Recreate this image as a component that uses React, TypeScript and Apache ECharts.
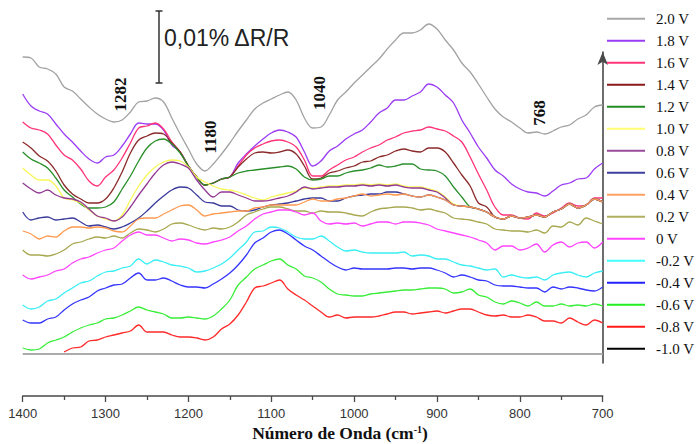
import React, { useEffect, useRef } from "react";
import * as echarts from "echarts";

// Wavenumber sampling (cm-1)
const wavenumbers = [
  1400, 1390, 1380, 1370, 1360, 1350, 1340, 1330, 1320, 1310,
  1300, 1290, 1280, 1270, 1260, 1250, 1240, 1230, 1220, 1210,
  1200, 1190, 1180, 1170, 1160, 1150, 1140, 1130, 1120, 1110,
  1100, 1090, 1080, 1070, 1060, 1050, 1040, 1030, 1020, 1010,
  1000, 990, 980, 970, 960, 950, 940, 930, 920, 910,
  900, 890, 880, 870, 860, 850, 840, 830, 820, 810,
  800, 790, 780, 770, 760, 750, 740, 730, 720, 710, 700,
];

const seriesNames = [
  "2.0 V", "1.8 V", "1.6 V", "1.4 V", "1.2 V", "1.0 V", "0.8 V", "0.6 V",
  "0.4 V", "0.2 V", "0 V", "-0.2 V", "-0.4 V", "-0.6 V", "-0.8 V", "-1.0 V",
];

// Offset spectra (arbitrary offset units)
const v20 = [
  306, 305, 296, 294, 289, 276, 272, 264, 256, 249,
  244, 241, 243, 251, 261, 262, 265, 261, 245, 229,
  214, 199, 192, 199, 209, 220, 232, 243, 254, 260,
  264, 268, 271, 263, 245, 235, 236, 248, 263, 271,
  280, 288, 296, 304, 314, 323, 330, 330, 333, 339,
  334, 323, 313, 300, 291, 279, 266, 254, 246, 241,
  235, 230, 231, 229, 232, 236, 238, 244, 248, 256, 258,
];
const v18 = [
  269, 257, 252, 249, 239, 229, 221, 212, 204, 200,
  206, 208, 217, 229, 240, 239, 239, 233, 218, 211,
  197, 186, 178, 180, 184, 186, 200, 209, 217, 224,
  230, 233, 231, 226, 211, 197, 202, 212, 217, 224,
  229, 233, 241, 250, 255, 263, 263, 267, 271, 279,
  276, 268, 260, 243, 230, 216, 205, 193, 187, 179,
  174, 171, 170, 167, 172, 178, 180, 184, 185, 194, 200,
];
const v16 = [
  241, 235, 233, 229, 218, 208, 203, 194, 182, 177,
  186, 193, 205, 220, 235, 237, 240, 234, 221, 211,
  197, 186, 178, 180, 184, 186, 197, 208, 215, 219,
  222, 223, 221, 216, 203, 187, 187, 193, 198, 203,
  206, 211, 215, 218, 223, 226, 230, 232, 233, 236,
  234, 232, 227, 221, 206, 189, 173, 156, 148, 148,
  145, 144, 150, 147, 150, 155, 160, 157, 158, 165, 165,
];
const v14 = [
  221, 215, 207, 202, 192, 178, 169, 164, 160, 160,
  164, 175, 191, 210, 223, 227, 230, 229, 220, 211,
  197, 186, 178, 180, 184, 186, 196, 204, 210, 211,
  210, 211, 213, 209, 197, 184, 185, 190, 192, 195,
  197, 201, 202, 206, 208, 212, 214, 212, 211, 215,
  215, 211, 200, 188, 177, 160, 156, 146, 144, 147,
  145, 146, 148, 146, 151, 154, 159, 155, 158, 164, 161,
];
const v12 = [
  211, 204, 200, 195, 185, 173, 166, 159, 155, 155,
  156, 161, 174, 187, 202, 215, 222, 224, 219, 210,
  197, 186, 178, 180, 184, 186, 190, 192, 193, 194,
  195, 196, 197, 194, 186, 183, 184, 187, 187, 190,
  192, 193, 195, 198, 196, 197, 199, 199, 194, 193,
  192, 187, 176, 166, 156, 154, 151, 146, 144, 147,
  145, 146, 148, 146, 151, 154, 159, 155, 158, 164, 161,
];
const v10 = [
  195, 188, 183, 183, 177, 165, 163, 160, 153, 147,
  144, 142, 148, 163, 177, 188, 196, 201, 203, 202,
  196, 186, 181, 177, 174, 173, 171, 168, 165, 163,
  166, 168, 170, 172, 175, 175, 176, 177, 177, 178,
  178, 179, 178, 179, 178, 179, 177, 176, 176, 174,
  172, 166, 159, 157, 156, 154, 151, 146, 144, 147,
  145, 146, 148, 146, 151, 154, 159, 155, 158, 164, 161,
];
const v08 = [
  180, 174, 170, 173, 168, 165, 164, 161, 154, 147,
  145, 142, 146, 156, 168, 179, 190, 198, 201, 199,
  195, 183, 173, 166, 171, 171, 168, 165, 162, 162,
  163, 165, 167, 171, 176, 174, 175, 176, 176, 177,
  177, 178, 177, 178, 177, 178, 176, 175, 175, 173,
  171, 165, 158, 157, 156, 154, 151, 146, 144, 147,
  145, 146, 148, 146, 151, 154, 159, 155, 158, 164, 161,
];
const v06 = [
  151, 143, 145, 146, 143, 144, 145, 141, 137, 138,
  136, 134, 136, 140, 145, 152, 160, 167, 173, 176,
  175, 168, 161, 160, 157, 157, 153, 152, 153, 156,
  158, 159, 160, 162, 164, 165, 165, 162, 162, 165,
  167, 168, 169, 169, 171, 171, 169, 167, 166, 168,
  166, 163, 158, 157, 156, 154, 151, 146, 144, 147,
  145, 146, 148, 146, 151, 154, 159, 155, 158, 164, 161,
];
const v04 = [
  132, 129, 124, 127, 126, 132, 136, 136, 135, 136,
  135, 132, 131, 137, 144, 145, 145, 149, 153, 157,
  158, 153, 147, 149, 150, 151, 152, 152, 155, 156,
  158, 158, 158, 158, 161, 164, 162, 162, 164, 165,
  167, 169, 167, 168, 169, 168, 169, 167, 166, 168,
  166, 163, 158, 157, 156, 154, 151, 146, 144, 147,
  145, 146, 148, 146, 151, 154, 159, 155, 158, 164, 161,
];
const v02 = [
  113, 108, 108, 107, 109, 113, 119, 121, 124, 126,
  125, 127, 125, 130, 134, 133, 131, 134, 139, 140,
  138, 135, 133, 135, 134, 136, 141, 148, 151, 154,
  156, 156, 154, 152, 152, 150, 152, 151, 151, 150,
  148, 147, 151, 154, 155, 156, 156, 155, 153, 154,
  152, 150, 145, 144, 143, 141, 139, 134, 133, 132,
  132, 131, 133, 130, 137, 136, 141, 138, 145, 142, 139,
];
const v00 = [
  88, 84, 86, 88, 92, 94, 100, 104, 106, 110,
  113, 115, 122, 128, 131, 128, 128, 125, 122, 124,
  123, 120, 119, 121, 123, 126, 132, 137, 144, 149,
  151, 153, 153, 151, 148, 150, 142, 139, 140, 139,
  140, 137, 139, 141, 141, 139, 141, 141, 140, 138,
  134, 132, 130, 128, 126, 123, 120, 113, 117, 117,
  113, 115, 119, 111, 118, 121, 116, 120, 121, 115, 121,
];
const vm02 = [
  58, 54, 56, 62, 64, 70, 75, 80, 82, 87,
  91, 92, 95, 97, 104, 99, 103, 101, 98, 97,
  95, 91, 92, 95, 99, 105, 113, 121, 131, 132,
  136, 135, 131, 126, 124, 124, 127, 122, 116, 112,
  113, 111, 110, 110, 110, 110, 111, 107, 108, 107,
  104, 104, 101, 98, 97, 95, 93, 94, 86, 88,
  86, 85, 86, 83, 88, 90, 91, 88, 86, 90, 92,
];
const vm04 = [
  43, 40, 40, 44, 46, 53, 59, 63, 66, 72,
  75, 78, 79, 85, 90, 83, 83, 85, 82, 78,
  76, 76, 75, 79, 84, 90, 98, 108, 120, 125,
  131, 133, 129, 123, 117, 113, 107, 101, 96, 93,
  95, 94, 94, 94, 94, 95, 95, 94, 95, 95,
  93, 90, 86, 88, 86, 83, 82, 78, 77, 77,
  76, 75, 75, 71, 76, 74, 76, 75, 73, 72, 76,
];
const vm06 = [
  15, 13, 14, 20, 23, 26, 31, 35, 38, 40,
  44, 45, 48, 52, 56, 53, 51, 49, 45, 45,
  46, 45, 44, 47, 54, 63, 78, 86, 94, 98,
  102, 104, 98, 94, 87, 85, 81, 74, 69, 68,
  67, 67, 69, 70, 71, 72, 73, 73, 74, 75,
  75, 74, 70, 71, 74, 68, 66, 61, 59, 62,
  60, 57, 61, 57, 57, 59, 57, 58, 57, 59, 57,
];
const vm08 = [
  null, null, null, null, null, 11, 15, 16, 22, 23,
  26, 28, 30, 32, 38, 31, 31, 31, 28, 26,
  26, 25, 23, 26, 34, 39, 48, 61, 75, 77,
  80, 83, 74, 68, 63, 57, 51, 46, 48, 45,
  46, 46, 46, 47, 49, 51, 51, 49, 50, 51,
  52, 50, 52, 54, 54, 51, 48, 47, 48, 46,
  46, 48, 46, 42, 42, 40, 45, 41, 38, 43, 40,
];
// -1.0 V is the reference potential: flat line
const vm10X = [1400, 700];
const vm10 = [9, 9];

const peakLabels = ["1282", "1180", "1040", "768"];
const scaleBarLabel = "0,01% \u0394R/R";

const lineColors = [
  "#a2a2a2", "#9b3cf5", "#ff3377", "#8b2a2a", "#2a8f2a", "#f7f75a", "#943a94", "#3a3a9c",
  "#ff9a50", "#a8a850", "#ff44ff", "#3aeef5", "#3535ff", "#38ee38", "#ff2a2a", "#ababab",
];
const legendColors = [
  "#a8a8a8", "#9b3cf5", "#ff3377", "#8b1a1a", "#228b22", "#ffff70", "#9a4a9a", "#3f3f9f",
  "#ffa060", "#b0b060", "#ff44ff", "#44ffff", "#2222ff", "#22ee22", "#ff1a1a", "#000000",
];

export default function App() {
  const ref = useRef<HTMLDivElement>(null);

  useEffect(() => {
    if (!ref.current) return;
    const chart = echarts.init(ref.current, undefined, { renderer: "svg" });
    const values = [v20, v18, v16, v14, v12, v10, v08, v06, v04, v02, v00, vm02, vm04, vm06, vm08];

    const series: any[] = seriesNames.map((name, i) => {
      const isRef = i === seriesNames.length - 1;
      const data = isRef
        ? vm10X.map((x, j) => [x, vm10[j]])
        : wavenumbers
            .map((w, j) => [w, values[i][j]])
            .filter((p) => p[1] !== null && p[1] !== undefined);
      return {
        name,
        type: "line",
        data,
        showSymbol: false,
        symbol: "none",
        smooth: isRef ? false : 0.35,
        clip: false,
        silent: true,
        lineStyle: { color: lineColors[i], width: isRef ? 2 : 1.3 },
        itemStyle: { color: lineColors[i] },
        emphasis: { disabled: true },
      };
    });

    const serif = '"Liberation Serif", "Times New Roman", serif';
    const sans = '"Liberation Sans", Arial, sans-serif';
    const labelPos = [
      [120, 94.5],
      [210.5, 137],
      [319.5, 93],
      [539, 113],
    ];

    chart.setOption({
      animation: false,
      grid: { left: 22.7, right: 93.3, top: 52, bottom: 81, containLabel: false },
      xAxis: {
        type: "value",
        min: 700,
        max: 1400,
        interval: 100,
        inverse: true,
        offset: 33,
        axisLine: { show: true, onZero: false, lineStyle: { color: "#4a4a4a", width: 1.5 } },
        axisTick: { show: true, inside: false, length: 6, lineStyle: { color: "#4a4a4a", width: 1.3 } },
        minorTick: { show: true, splitNumber: 2, length: 4, lineStyle: { color: "#4a4a4a", width: 1.3 } },
        axisLabel: {
          color: "#333",
          fontSize: 13,
          fontFamily: sans,
          margin: 11,
          showMinLabel: true,
          showMaxLabel: true,
          formatter: (v: number) => String(v),
        },
        splitLine: { show: false },
        minorSplitLine: { show: false },
      },
      yAxis: {
        type: "value",
        min: 0,
        max: 311,
        position: "right",
        axisLine: {
          show: true,
          onZero: false,
          symbol: ["none", "arrow"],
          symbolSize: [8, 13],
          lineStyle: { color: "#4a4a4a", width: 1.6 },
        },
        axisTick: { show: false },
        axisLabel: { show: false },
        splitLine: { show: false },
      },
      legend: {
        orient: "vertical",
        left: 607,
        top: 11.3,
        padding: 0,
        itemGap: 7,
        itemWidth: 38,
        itemHeight: 2,
        icon: "rect",
        selectedMode: false,
        textStyle: { fontFamily: serif, fontSize: 15, color: "#111", lineHeight: 14, padding: [0, 0, 0, 6] },
        data: seriesNames.map((n, i) => ({ name: n, itemStyle: { color: legendColors[i], borderWidth: 0 } })),
      },
      series,
      graphic: [
        { type: "line", silent: true, shape: { x1: 159, y1: 11, x2: 159, y2: 83 }, style: { stroke: "#333", lineWidth: 1.5 } },
        { type: "line", silent: true, shape: { x1: 155.5, y1: 11, x2: 162.5, y2: 11 }, style: { stroke: "#333", lineWidth: 1.5 } },
        { type: "line", silent: true, shape: { x1: 155.5, y1: 83, x2: 162.5, y2: 83 }, style: { stroke: "#333", lineWidth: 1.5 } },
        {
          type: "text",
          silent: true,
          x: 164,
          y: 37.5,
          style: { text: scaleBarLabel, font: `23px ${sans}`, fill: "#222", align: "left", verticalAlign: "middle" },
        },
        ...peakLabels.map((t, i) => ({
          type: "text",
          silent: true,
          x: labelPos[i][0],
          y: labelPos[i][1],
          rotation: Math.PI / 2,
          style: { text: t, font: `bold 17px ${serif}`, fill: "#111", align: "center", verticalAlign: "middle" },
        })),
        {
          type: "text",
          silent: true,
          x: 340,
          y: 433,
          style: {
            text: "{a|Número de Onda (cm}{s|-1}{a|)}",
            align: "center",
            verticalAlign: "middle",
            rich: {
              a: { fontFamily: serif, fontWeight: "bold", fontSize: 17.5, fill: "#111", lineHeight: 17 },
              s: { fontFamily: serif, fontWeight: "bold", fontSize: 10, fill: "#111", verticalAlign: "top", lineHeight: 17 },
            },
          },
        },
      ],
    });

    return () => chart.dispose();
  }, []);

  return (
    <div
      ref={ref}
      style={{ position: "fixed", left: 0, top: 0, width: 696, height: 444, background: "#fff" }}
    />
  );
}
